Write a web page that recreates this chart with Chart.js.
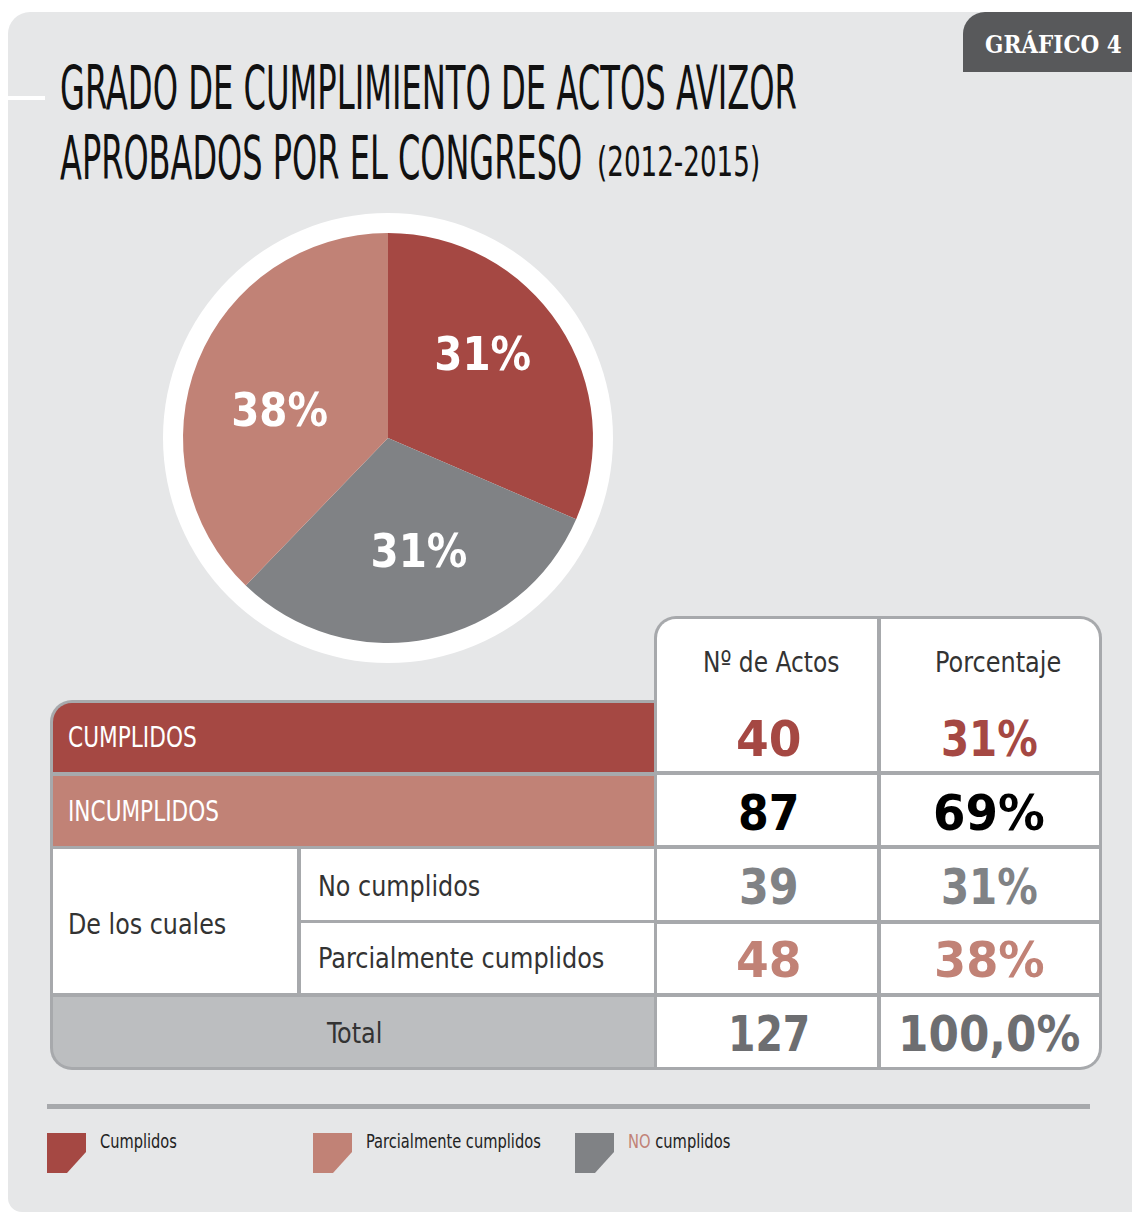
<!DOCTYPE html>
<html>
<head>
<meta charset="utf-8">
<script src="https://cdn.jsdelivr.net/npm/chart.js@4/dist/chart.umd.min.js"></script>
<style>
  html, body { margin:0; padding:0; background:#ffffff; width:1132px; height:1213px; overflow:hidden; }
  #panel { position:absolute; left:8px; top:12px; width:1140px; height:1200px; background:#e6e7e8; border-radius:22px 0 0 14px; }
  .abs { position:absolute; }
  .txt { position:absolute; white-space:nowrap; line-height:1; transform-origin:left center; }
  .cond { font-family:"Liberation Sans Narrow","DejaVu Sans Condensed","Liberation Sans","Arial Narrow",sans-serif; }
  .num { font-family:"DejaVu Sans","Verdana",sans-serif; font-weight:bold; }
</style>
</head>
<body>
<div id="panel"></div>
<div class="abs" style="left:963px;top:12px;width:180px;height:60px;background:#58595b;border-radius:22px 0 0 0;"></div>
<div class="abs" style="left:8px;top:96px;width:37px;height:4px;background:#ffffff;"></div>
<div id="pieBox" class="abs" style="left:143px;top:193px;width:490px;height:490px;"><canvas id="pie"></canvas></div>
<div id="layer"></div>
<script>
// ---------- DATA ----------
const categories = ['Cumplidos', 'No cumplidos', 'Parcialmente cumplidos'];
const pieValues = [40, 39, 48];
const pieLabels = ['31%', '31%', '38%'];
const sliceColors = ['#a54843', '#808285', '#c18276'];

const rowLabels = ['CUMPLIDOS', 'INCUMPLIDOS', 'No cumplidos', 'Parcialmente cumplidos', 'Total'];
const groupLabel = 'De los cuales';
const colHeaders = ['Nº de Actos', 'Porcentaje'];
const rowCounts = ['40', '87', '39', '48', '127'];
const rowPercents = ['31%', '69%', '31%', '38%', '100,0%'];
const rowValueColors = ['#a54843', '#000000', '#808285', '#c18276', '#6d6e71'];

const legendLabels = ['Cumplidos', 'Parcialmente cumplidos', 'NO cumplidos'];
const legendColors = ['#a54843', '#c18276', '#808285'];

const titleLine1 = 'GRADO DE CUMPLIMIENTO DE ACTOS AVIZOR';
const titleLine2 = 'APROBADOS POR EL CONGRESO';
const titleYears = '(2012-2015)';
const tabLabel = 'GRÁFICO 4';

// ---------- helpers ----------
const layer = document.getElementById('layer');
function rect(x1, y1, x2, y2, bg, radius) {
  const d = document.createElement('div');
  d.className = 'abs';
  d.style.left = x1 + 'px'; d.style.top = y1 + 'px';
  d.style.width = (x2 - x1) + 'px'; d.style.height = (y2 - y1) + 'px';
  d.style.background = bg;
  if (radius) d.style.borderRadius = radius;
  layer.appendChild(d);
  return d;
}
const fits = [];
function text(html, o) {
  const d = document.createElement('div');
  d.className = 'txt ' + (o.cls || 'cond');
  d.innerHTML = html;
  d.style.fontSize = o.size + 'px';
  d.style.color = o.color || '#222';
  if (o.weight) d.style.fontWeight = o.weight;
  if (o.family) d.style.fontFamily = o.family;
  layer.appendChild(d);
  fits.push({ d, o });
  return d;
}
function applyFits() {
  fits.forEach(({ d, o }) => {
    d.style.transform = 'none';
    const nat = d.offsetWidth;
    const s = o.w ? o.w / nat : 1;
    const w = nat * s;
    const left = o.anchor === 'center' ? o.x - w / 2 : o.x;
    d.style.left = left + 'px';
    d.style.top = o.y + 'px';
    d.style.transform = 'translateY(-50%) scaleX(' + s + ')';
  });
}

// ---------- title & tab ----------
text(tabLabel, { x: 985, y: 44, size: 25, color: '#ffffff', weight: 'bold', family: '"DejaVu Serif","Liberation Serif",serif', w: 137 });
text(titleLine1, { x: 60, y: 88, size: 60, color: '#111111', w: 737 });
text(titleLine2, { x: 60, y: 157, size: 61, color: '#111111', w: 522 });
text(titleYears, { x: 597, y: 162, size: 40, color: '#111111', w: 163 });

// ---------- table ----------
const LINE = '#a7a9ac';
// left block
rect(50, 700, 658, 1070, LINE, '22px 0 0 22px');
rect(53, 703, 654, 772, sliceColors[0], '19px 0 0 0');
rect(53, 776, 654, 846, sliceColors[2]);
rect(53, 849, 297, 993, '#ffffff');
rect(301, 849, 654, 920, '#ffffff');
rect(301, 923, 654, 993, '#ffffff');
rect(53, 997, 654, 1067, '#bcbec0', '0 0 0 19px');
// right block
rect(654, 616, 1102, 1070, LINE, '22px 22px 22px 0');
const colX = [[657, 877], [881, 1099]];
const rowY = [[619, 771], [775, 845], [849, 920], [924, 993], [997, 1067]];
rowY.forEach((ry, ri) => {
  colX.forEach((cx, ci) => {
    let r = '';
    if (ri === 0 && ci === 0) r = '19px 0 0 0';
    if (ri === 0 && ci === 1) r = '0 19px 0 0';
    if (ri === 4 && ci === 1) r = '0 0 19px 0';
    rect(cx[0], ry[0], cx[1], ry[1], '#ffffff', r);
  });
});

// labels
text(rowLabels[0], { x: 68, y: 738, size: 28, color: '#ffffff', w: 129 });
text(rowLabels[1], { x: 68, y: 812, size: 28, color: '#ffffff', w: 151 });
text(groupLabel, { x: 68, y: 924, size: 29, color: '#333333', w: 158 });
text(rowLabels[2], { x: 318, y: 886, size: 29, color: '#333333', w: 162 });
text(rowLabels[3], { x: 318, y: 958, size: 29, color: '#333333', w: 286 });
text(rowLabels[4], { x: 354, y: 1033, size: 29, color: '#333333', w: 55, anchor: 'center' });
text(colHeaders[0], { x: 771, y: 662, size: 29, color: '#333333', w: 136, anchor: 'center' });
text(colHeaders[1], { x: 998, y: 662, size: 29, color: '#333333', w: 126, anchor: 'center' });

const valueY = [739, 813, 887, 960, 1034];
const countW = [66, 62, 60, 66, 82];
const pctW = [97, 112, 97, 111, 182];
rowCounts.forEach((v, i) => {
  text(v, { cls: 'num', x: 769, y: valueY[i], size: 50, color: rowValueColors[i], w: countW[i], anchor: 'center' });
  text(rowPercents[i], { cls: 'num', x: 989, y: valueY[i], size: 50, color: rowValueColors[i], w: pctW[i], anchor: 'center' });
});

// ---------- legend ----------
rect(47, 1104, 1090, 1109, LINE);
const legendX = [47, 313, 575];
const legendTextW = [77, 175, 102];
legendLabels.forEach((lab, i) => {
  const c = document.createElement('canvas');
  c.width = 40; c.height = 40;
  c.className = 'abs';
  c.style.left = legendX[i] + 'px'; c.style.top = '1133px';
  const g = c.getContext('2d');
  g.fillStyle = legendColors[i];
  g.beginPath();
  g.moveTo(0, 0); g.lineTo(39, 0); g.lineTo(39, 19); g.lineTo(20, 40); g.lineTo(0, 40);
  g.closePath(); g.fill();
  layer.appendChild(c);
  let html = lab;
  if (lab.startsWith('NO ')) html = '<span style="color:#c18276">NO</span>' + lab.slice(2);
  text(html, { x: legendX[i] + 53, y: 1141, size: 20, color: '#222222', w: legendTextW[i] });
});

applyFits();
if (document.fonts && document.fonts.ready) document.fonts.ready.then(applyFits);

// ---------- pie ----------
const ringPlugin = {
  id: 'ring',
  beforeDatasetsDraw(chart) {
    const arc = chart.getDatasetMeta(0).data[0];
    if (!arc) return;
    const ctx = chart.ctx;
    ctx.save();
    ctx.fillStyle = '#ffffff';
    ctx.beginPath();
    ctx.arc(arc.x, arc.y, arc.outerRadius + 20, 0, Math.PI * 2);
    ctx.fill();
    ctx.restore();
  }
};
const labelPlugin = {
  id: 'sliceLabels',
  afterDatasetsDraw(chart, args, opts) {
    const ctx = chart.ctx;
    const meta = chart.getDatasetMeta(0);
    ctx.save();
    ctx.fillStyle = '#ffffff';
    ctx.font = 'bold 46px "DejaVu Sans", Verdana, sans-serif';
    ctx.textAlign = 'center';
    ctx.textBaseline = 'middle';
    meta.data.forEach((a, i) => {
      const mid = (a.startAngle + a.endAngle) / 2;
      const r = a.outerRadius * opts.radiusFactor;
      const x = a.x + Math.cos(mid) * r + opts.dx[i];
      const y = a.y + Math.sin(mid) * r + opts.dy[i];
      ctx.save();
      ctx.translate(x, y);
      ctx.scale(0.88, 1);
      ctx.fillText(pieLabels[i], 0, 0);
      ctx.restore();
    });
    ctx.restore();
  }
};
new Chart(document.getElementById('pie'), {
  type: 'pie',
  data: {
    labels: categories,
    datasets: [{ data: pieValues, backgroundColor: sliceColors, borderWidth: 0 }]
  },
  options: {
    responsive: true,
    maintainAspectRatio: false,
    animation: false,
    layout: { padding: 40 },
    plugins: {
      legend: { display: false },
      tooltip: { enabled: false },
      sliceLabels: { radiusFactor: 0.57, dx: [-3, 8, 0], dy: [-16, 2, 20] }
    }
  },
  plugins: [ringPlugin, labelPlugin]
});
</script>
</body>
</html>
